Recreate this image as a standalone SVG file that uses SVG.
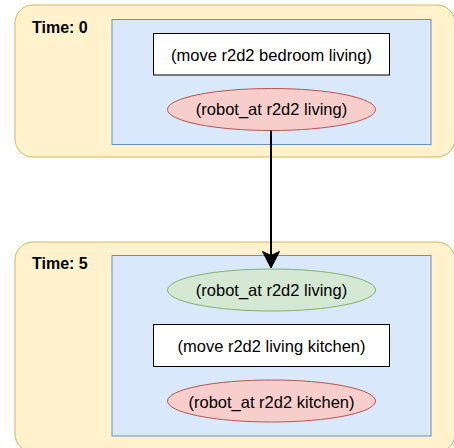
<svg xmlns="http://www.w3.org/2000/svg" width="454" height="448" viewBox="0 0 454 448">
<defs>
<style>
.outer{fill:#fff2cc;stroke:#d6b656;stroke-width:1}
.inner{fill:#dae8fc;stroke:#6c8ebf;stroke-width:1}
.act{fill:#ffffff;stroke:#000000;stroke-width:1}
.del{fill:#f8cecc;stroke:#b85450;stroke-width:1}
.add{fill:#d5e8d4;stroke:#82b366;stroke-width:1}
text{font-family:"Liberation Sans",Arial,sans-serif;font-size:16.5px;fill:#000}
.c{text-anchor:middle}
.t{font-weight:bold;font-size:16px}
</style>
</defs>
<g id="time0">
<rect class="outer" x="15" y="5" width="440" height="152" rx="18" ry="18"/>
<text class="t" x="32" y="33.3">Time: 0</text>
<rect class="inner" x="112" y="19.5" width="319" height="125"/>
</g>
<g id="move1">
<rect class="act" x="153.5" y="33.5" width="236" height="41.5"/>
<text class="c" x="271.5" y="61">(move r2d2 bedroom living)</text>
</g>
<g id="del1">
<ellipse class="del" cx="271.5" cy="109.5" rx="104" ry="21"/>
<text class="c" x="271.5" y="114.5">(robot_at r2d2 living)</text>
</g>
<g id="time5">
<rect class="outer" x="15" y="242" width="440" height="210" rx="18" ry="18"/>
<text class="t" x="32" y="269">Time: 5</text>
<rect class="inner" x="112" y="255.5" width="319" height="180.5"/>
</g>
<g id="add2">
<ellipse class="add" cx="271.5" cy="290" rx="104" ry="21"/>
<text class="c" x="271.5" y="296">(robot_at r2d2 living)</text>
</g>
<g id="move2">
<rect class="act" x="153.5" y="324.5" width="236" height="42"/>
<text class="c" x="271.5" y="351.7">(move r2d2 living kitchen)</text>
</g>
<g id="del2">
<ellipse class="del" cx="271.5" cy="401" rx="104" ry="21"/>
<text class="c" x="271.5" y="407.5">(robot_at r2d2 kitchen)</text>
</g>
<g id="connectors">
<line x1="271" y1="130.5" x2="271" y2="256" stroke="#000" stroke-width="2"/>
<path d="M271,268 L262.5,251.5 L271,255.5 L279.5,251.5 Z" fill="#000" stroke="#000" stroke-width="1"/>
</g>
</svg>
